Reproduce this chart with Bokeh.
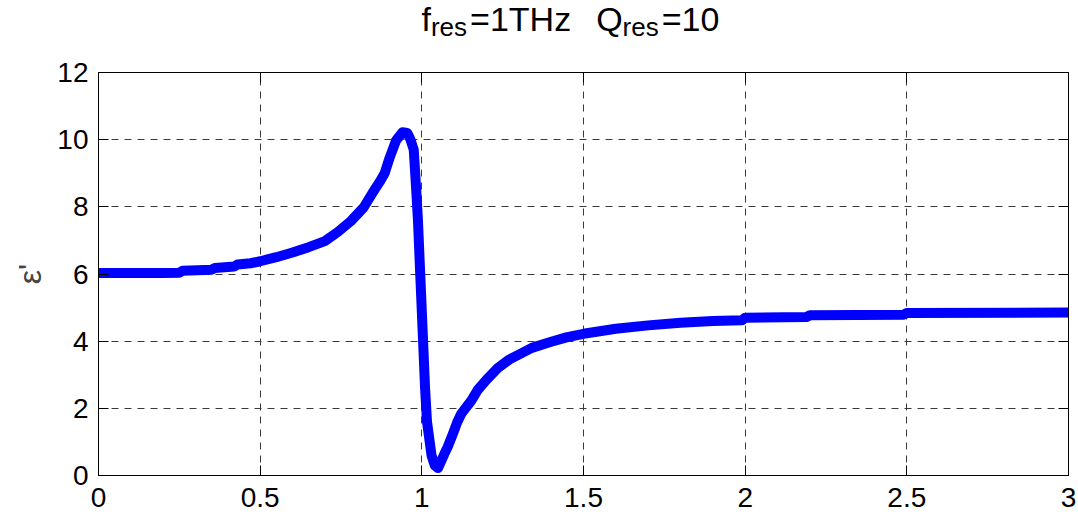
from bokeh.plotting import figure
from bokeh.layouts import column
from bokeh.models import Range1d, LinearAxis, Label, FixedTicker
from bokeh.embed import file_html
from bokeh.resources import INLINE

# Real part of permittivity of a Lorentz resonance (f_res = 1 THz, Q = 10)
freq_thz = [0.0, 0.1, 0.2, 0.25, 0.26, 0.35, 0.36, 0.42, 0.43, 0.47, 0.5, 0.55,
            0.6, 0.65, 0.7, 0.74, 0.78, 0.82, 0.85, 0.87, 0.885, 0.9, 0.92,
            0.94, 0.955, 0.965, 0.975, 0.982, 0.988, 0.995, 1.003, 1.01, 1.016,
            1.03, 1.04, 1.05, 1.07, 1.08, 1.096, 1.11, 1.122, 1.153, 1.173, 1.2,
            1.235, 1.27, 1.3, 1.34, 1.4, 1.45, 1.5, 1.6, 1.7, 1.8, 1.9, 1.99,
            2.0, 2.19, 2.2, 2.49, 2.5, 3.0]
eps_real = [6.03, 6.03, 6.03, 6.04, 6.1, 6.13, 6.18, 6.22, 6.28, 6.32, 6.38, 6.5,
            6.64, 6.8, 6.98, 7.25, 7.57, 7.98, 8.45, 8.75, 9.0, 9.45, 9.97,
            10.22, 10.2, 10.0, 9.7, 8.6, 7.6, 6.0, 4.2, 2.6, 1.6,
            0.6, 0.3, 0.22, 0.65, 0.85, 1.24, 1.6, 1.84, 2.23, 2.55, 2.85,
            3.2, 3.45, 3.6, 3.8, 3.98, 4.12, 4.22, 4.37, 4.47, 4.55, 4.6, 4.62,
            4.7, 4.72, 4.77, 4.79, 4.84, 4.85]

x_ticks = [0, 0.5, 1, 1.5, 2, 2.5, 3]
x_tick_labels = ["0", "0.5", "1", "1.5", "2", "2.5", "3"]
y_ticks = [0, 2, 4, 6, 8, 10, 12]
y_tick_labels = ["0", "2", "4", "6", "8", "10", "12"]

# title pieces: (text, is_subscript); None marks the gap between the two halves
title_parts = [("f", False), ("res", True), ("=1THz", False), (None, False),
               ("Q", False), ("res", True), ("=10", False)]

FONT = "Liberation Sans"
TICK_SIZE = 28
MAIN_SIZE = 34
SUB_SIZE = 26
SUB_DROP = 8
SUB_PAD = 3
GAP = 25

# Arial/Liberation Sans advance widths (per 1000 em) for laying out the title
ADV = {"f": 278, "r": 333, "e": 556, "s": 500, "=": 584, "1": 556, "T": 611,
       "H": 722, "z": 500, "Q": 778, "0": 556}

W = 1078
TITLE_H = 50
PLOT_H = 468
LEFT, RIGHT, TOP, BOTTOM = 98, 10, 22, 43

# --- title strip (its frame lines up with the plot frame below) ------------
t = figure(width=W, height=TITLE_H, output_backend="svg", toolbar_location=None,
           x_range=Range1d(0, W), y_range=Range1d(0, TITLE_H),
           min_border=0, x_axis_location=None, y_axis_location=None)
t.outline_line_color = None
t.xgrid.visible = False
t.ygrid.visible = False
t.border_fill_color = "white"
t.background_fill_color = "white"

BASELINE_FIX = 11
x_cursor = 421 - LEFT
baseline_canvas = 29
for text, is_sub in title_parts:
    if text is None:
        x_cursor += GAP
        continue
    size = SUB_SIZE if is_sub else MAIN_SIZE
    base = baseline_canvas + (SUB_DROP if is_sub else 0)
    t.add_layout(Label(x=x_cursor, y=TITLE_H - base + BASELINE_FIX,
                       x_units="screen", y_units="screen", text=text,
                       text_font=FONT, text_font_size=f"{size}px",
                       text_color="black", text_baseline="alphabetic",
                       text_align="left"))
    x_cursor += sum(ADV[c] for c in text) * size / 1000.0 + (SUB_PAD if is_sub else 0)

# --- main plot -------------------------------------------------------------
p = figure(width=W, height=PLOT_H, output_backend="svg", toolbar_location=None,
           x_range=Range1d(0, 3), y_range=Range1d(0, 12),
           min_border_left=LEFT, min_border_right=RIGHT,
           min_border_top=TOP, min_border_bottom=BOTTOM,
           x_axis_location=None, y_axis_location=None)
p.background_fill_color = "white"
p.border_fill_color = "white"
p.outline_line_color = "black"
p.outline_line_width = 1


def make_axis(ticks, labels, show_labels):
    ax = LinearAxis(ticker=FixedTicker(ticks=ticks),
                    major_label_overrides={t: l for t, l in zip(ticks, labels)})
    ax.major_tick_in = 10
    ax.major_tick_out = 0
    ax.minor_tick_in = 0
    ax.minor_tick_out = 0
    ax.axis_line_color = "black"
    ax.major_tick_line_color = "black"
    ax.major_label_text_font = FONT
    ax.major_label_text_color = "black"
    if show_labels:
        ax.major_label_text_font_size = f"{TICK_SIZE}px"
    else:
        ax.major_label_text_font_size = "0px"
        ax.major_label_standoff = 0
    return ax


xb = make_axis(x_ticks, x_tick_labels, True)
xb.major_label_standoff = 12
p.add_layout(xb, "below")
yl = make_axis(y_ticks, y_tick_labels, True)
yl.major_label_standoff = 10
yl.axis_label = "ε'"
yl.axis_label_text_font = FONT
yl.axis_label_text_font_style = "normal"
yl.axis_label_text_font_size = "32px"
yl.axis_label_standoff = 6
p.add_layout(yl, "left")
p.add_layout(make_axis(x_ticks, x_tick_labels, False), "above")
p.add_layout(make_axis(y_ticks, y_tick_labels, False), "right")

for g in (p.xgrid, p.ygrid):
    g.grid_line_color = "#3a3a3a"
    g.grid_line_dash = "7 6"
    g.grid_line_width = 1
p.xgrid.ticker = FixedTicker(ticks=x_ticks)
p.ygrid.ticker = FixedTicker(ticks=y_ticks)

p.line(freq_thz, eps_real, line_width=10, line_color="#0000FF",
       line_join="round", line_cap="round")

layout = column(t, p, spacing=0)
open("out.html", "w").write(file_html(layout, INLINE))
